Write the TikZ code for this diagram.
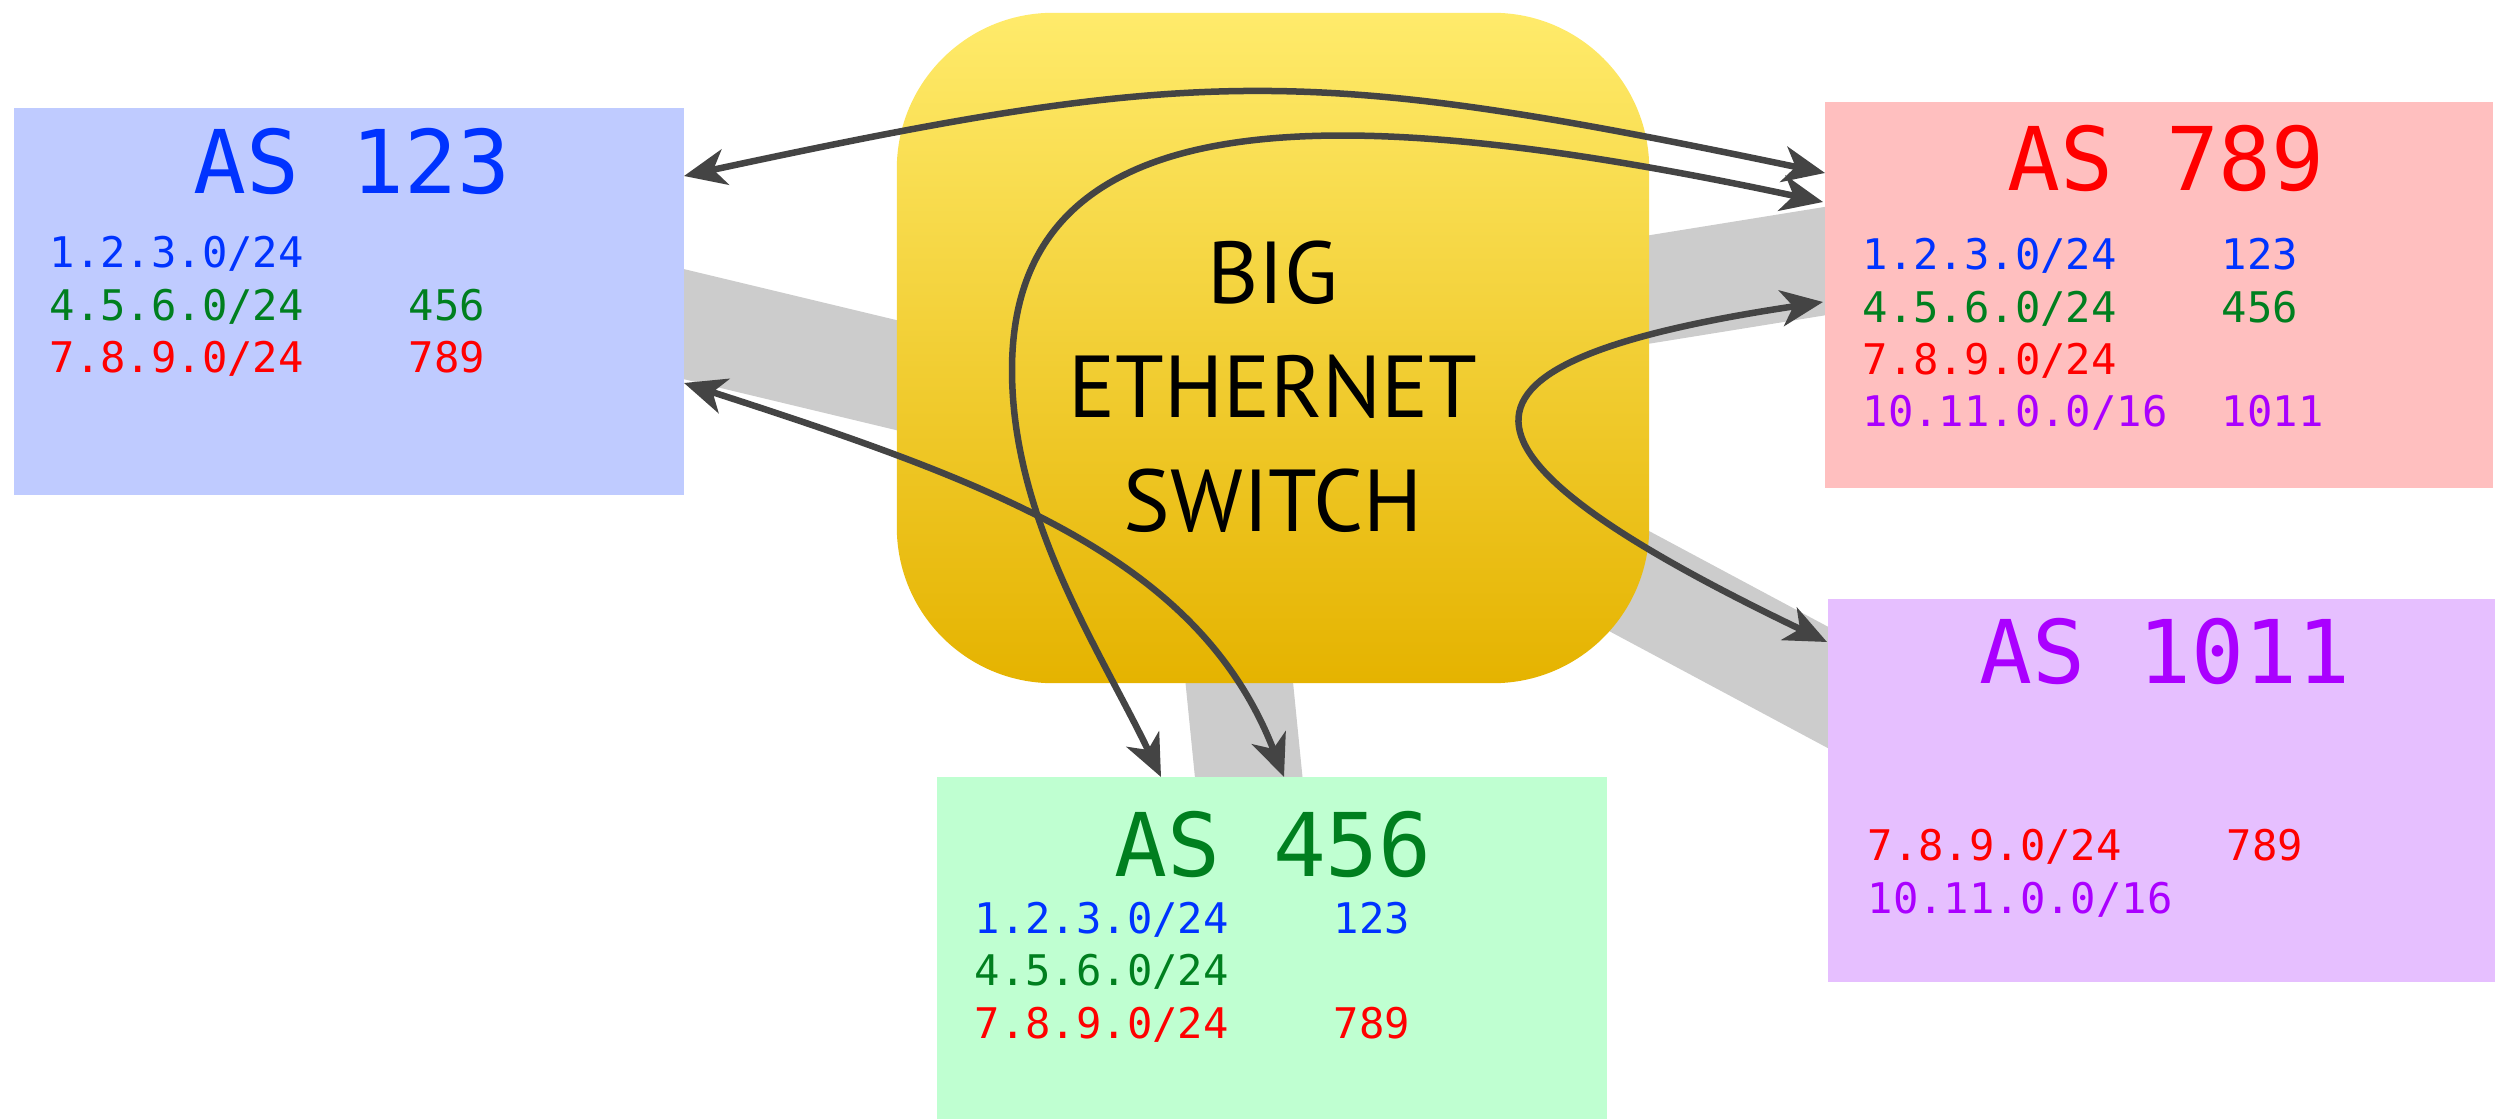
\documentclass[tikz,border=0pt]{standalone}
\usepackage{fontspec}
\newfontfamily\asmono{DejaVu Sans Mono}
\newfontfamily\swfont{PT Sans}
\usetikzlibrary{arrows.meta}

\definecolor{fillblue}{HTML}{BFCBFF}
\definecolor{fillred}{HTML}{FFBFBF}
\definecolor{fillpurple}{HTML}{E6BFFF}
\definecolor{fillgreen}{HTML}{BFFFD1}
\definecolor{textblue}{HTML}{0033FF}
\definecolor{textred}{HTML}{FF0000}
\definecolor{textpurple}{HTML}{AA00FF}
\definecolor{textgreen}{HTML}{007F1F}
\definecolor{bandgray}{HTML}{CCCCCC}
\definecolor{linkgray}{HTML}{444444}
\definecolor{swtop}{HTML}{FFEB6B}
\definecolor{swbottom}{HTML}{E5B300}

\newcommand{\asrow}[3]{\textcolor{#1}{\makebox[3.59cm][l]{#2}#3}}

\begin{document}
\begin{tikzpicture}[x=0.01cm,y=-0.01cm,
    asbox/.style={rectangle, inner sep=0pt, draw=none},
    astitle/.style={anchor=base, inner sep=0pt, font=\asmono\fontsize{25}{30}\selectfont},
    astable/.style={anchor=base west, inner sep=0pt, align=left, font=\asmono\fontsize{12}{14.9}\selectfont},
    band/.style={draw=bandgray, line width=1.07cm},
    link/.style={draw=linkgray, line width=0.065cm,
        {Stealth[length=0.42cm,width=0.36cm,inset=0.12cm]}-{Stealth[length=0.42cm,width=0.36cm,inset=0.12cm]}}]
    \useasboundingbox (0,0) rectangle (2506,1119);

    % links to the switch
    \draw[band] (600,304) -- (1000,400);
    \draw[band] (1550,305.5) -- (1900,249);
    \draw[band] (1500,512) -- (1900,726);
    \draw[band] (1234,630) -- (1254,830);

    % the AS boxes
    \node[asbox, fill=fillblue, minimum width=6.70cm, minimum height=3.86cm] (AS123) at (349,301.5) {};
    \node[asbox, fill=fillred, minimum width=6.68cm, minimum height=3.86cm] (AS789) at (2159,295) {};
    \node[asbox, fill=fillpurple, minimum width=6.67cm, minimum height=3.83cm] (AS1011) at (2161.5,790.5) {};
    \node[asbox, fill=fillgreen, minimum width=6.70cm, minimum height=3.42cm] (AS456) at (1272,948) {};

    % switch
    \node[rounded corners=1.56cm, minimum width=7.52cm, minimum height=6.70cm, inner sep=0pt,
        top color=swtop, bottom color=swbottom] (SW) at (1273,348) {};
    \node[align=center, inner sep=0pt, font=\swfont\fontsize{25}{32.4}\selectfont] (SWtext) at (1273,386.5) {BIG\\ETHERNET\\SWITCH};

    % titles
    \node[astitle, text=textblue] (T123) at (352,194) {AS 123};
    \node[astitle, text=textred] (T789) at (2166,191) {AS 789};
    \node[astitle, text=textpurple] (T1011) at (2165,684) {AS 1011};
    \node[astitle, text=textgreen] (T456) at (1273,876) {AS 456};

    % tables (base = last line)
    \node[astable] (R123) at (49,372.7) {\asrow{textblue}{1.2.3.0/24}{}\\
        \asrow{textgreen}{4.5.6.0/24}{456}\\
        \asrow{textred}{7.8.9.0/24}{789}};
    \node[astable] (R789) at (1862,427) {\asrow{textblue}{1.2.3.0/24}{123}\\
        \asrow{textgreen}{4.5.6.0/24}{456}\\
        \asrow{textred}{7.8.9.0/24}{}\\
        \asrow{textpurple}{10.11.0.0/16}{1011}};
    \node[astable] (R1011) at (1867,913) {\asrow{textred}{7.8.9.0/24}{789}\\
        \asrow{textpurple}{10.11.0.0/16}{}};
    \node[astable] (R456) at (974,1038) {\asrow{textblue}{1.2.3.0/24}{123}\\
        \asrow{textgreen}{4.5.6.0/24}{}\\
        \asrow{textred}{7.8.9.0/24}{789}};

    % arrow ends
    \coordinate (A123top) at (684,176);
    \coordinate (A123low) at (684,383);
    \coordinate (A789top) at (1825,173);
    \coordinate (A789mid) at (1823,202);
    \coordinate (A789low) at (1823,302);
    \coordinate (A1011) at (1827,642);
    \coordinate (A456left) at (1161,777);
    \coordinate (A456right) at (1284,777);

    \draw[link] (A123top) .. controls (1200,65) and (1309,65) .. (A789top);
    \draw[link] (A123low) .. controls (1000,485) and (1200,560) .. (A456right);
    \draw[link] (A789mid) .. controls (1323,95) and (1012,100) .. (1012,370)
        .. controls (1012,520) and (1100,650) .. (A456left);
    \draw[link] (A789low) .. controls (1423,362) and (1427,450) .. (A1011);
\end{tikzpicture}
\end{document}
